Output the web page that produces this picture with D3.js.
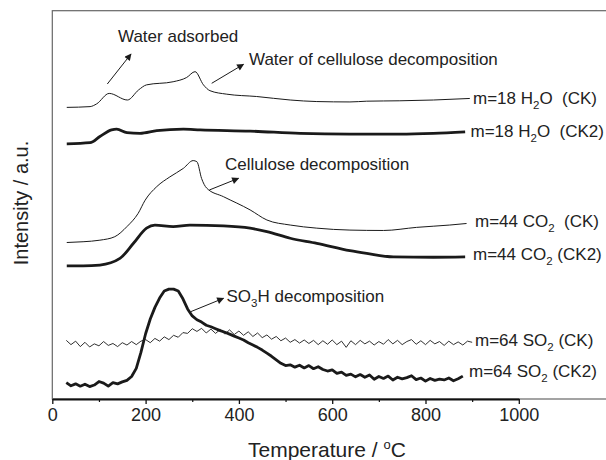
<!DOCTYPE html>
<html>
<head>
<meta charset="utf-8">
<script src="https://cdn.jsdelivr.net/npm/d3@7"></script>
<style>
  html, body { margin: 0; padding: 0; background: #fff; }
  svg { display: block; font-family: "Liberation Sans", Arial, sans-serif; }
  text { white-space: pre; fill: #222; }
</style>
</head>
<body>
<svg id="chart" width="606" height="460"></svg>
<script>
// ---- data: MS signals (offset, arbitrary units) vs temperature (°C) ----
const h2oCK_T  = [31, 81, 95, 122, 161, 185, 202, 259, 288, 306, 324, 338, 374, 438, 510, 567, 638, 674, 745, 817, 895];
const h2oCK_I  = [75.1, 75.3, 76.0, 78.7, 77.0, 79.6, 80.9, 81.7, 82.8, 84.3, 80.9, 79.4, 78.5, 77.9, 77.0, 76.6, 76.5, 76.7, 76.8, 77.0, 77.4];

const h2oCK2_T = [31, 81, 102, 127, 138, 160, 188, 224, 281, 317, 424, 531, 638, 745, 817, 885];
const h2oCK2_I = [65.7, 66.0, 67.6, 69.3, 69.5, 68.6, 68.4, 69.1, 69.5, 69.3, 69.0, 68.4, 68.2, 68.2, 68.4, 68.8];

const co2CK_T  = [31, 66, 102, 134, 160, 184, 199, 224, 252, 281, 302, 310, 320, 331, 367, 424, 460, 510, 567, 638, 710, 781, 852, 888];
const co2CK_I  = [40.3, 40.5, 40.9, 41.8, 44.4, 47.8, 51.2, 54.7, 57.2, 59.4, 61.4, 61.1, 56.8, 54.3, 52.1, 48.7, 46.1, 44.8, 44.0, 43.5, 43.4, 44.2, 44.8, 45.2];

const co2CK2_T = [31, 66, 102, 145, 174, 202, 220, 259, 295, 367, 424, 460, 510, 567, 638, 674, 731, 817, 885];
const co2CK2_I = [34.3, 34.3, 34.5, 36.2, 40.1, 44.0, 44.8, 44.4, 44.8, 44.6, 44.0, 43.1, 41.4, 40.1, 38.2, 37.5, 36.6, 36.5, 36.6];

// SO2 traces are sampled every 10 °C
const so2CK_T = d3.range(30, 901, 10);
const so2CK_I = [15.1, 14.0, 14.9, 13.5, 14.6, 13.4, 14.2, 13.7, 14.8, 13.8, 14.3, 13.5, 14.5, 13.9, 14.8, 14.0, 14.9,
  15.3, 14.5, 15.6, 14.9, 16.0, 15.3, 16.4, 15.9, 17.1, 16.9, 18.1, 17.4, 18.2, 17.0, 18.0, 16.9, 17.9, 16.7, 17.8,
  16.6, 17.5, 16.4, 17.3, 16.1, 17.0, 15.8, 16.5, 15.4, 16.1, 15.0, 15.7, 14.6, 15.3, 14.4, 15.2, 14.3, 15.1, 14.0,
  15.0, 14.1, 15.2, 14.0, 14.9, 13.3, 15.0, 14.0, 15.1, 14.2, 14.9, 13.9, 14.8, 14.1, 15.3, 14.2, 15.1, 14.0, 14.8,
  15.3, 14.1, 15.0, 14.0, 15.1, 14.2, 14.8, 13.8, 14.9, 14.0, 14.7, 13.9, 14.9, 14.6];

const so2CK2_T = d3.range(30, 881, 10);
const so2CK2_I = [4.2, 3.4, 3.9, 3.3, 3.8, 3.2, 3.6, 4.5, 4.1, 3.3, 4.2, 3.9, 4.4, 4.8, 5.8, 7.9, 12.0, 16.8, 20.6,
  23.6, 26.0, 27.8, 28.3, 28.3, 27.8, 25.8, 23.2, 21.4, 20.4, 19.8, 19.0, 18.6, 18.1, 17.6, 17.2, 16.7, 16.2, 15.7,
  15.2, 14.5, 13.9, 13.3, 12.6, 11.8, 11.0, 10.1, 9.2, 8.6, 8.8, 8.2, 8.7, 8.0, 8.6, 7.8, 8.3, 7.6, 7.2, 7.5, 6.6,
  6.9, 6.1, 6.4, 5.7, 6.3, 5.6, 6.2, 5.1, 5.8, 5.3, 5.9, 4.9, 5.6, 5.2, 5.5, 6.0, 5.0, 5.4, 4.6, 5.3, 4.8, 5.1, 4.9,
  5.4, 4.7, 5.2, 5.9];

const majorTicks = [0, 200, 400, 600, 800, 1000];
const minorTicks = [100, 300, 500, 700, 900];

// ---- layout ----
const svg = d3.select("#chart");
const x = d3.scaleLinear().domain([0, 1000]).range([52.3, 518.8]);
const y = d3.scaleLinear().domain([0, 100]).range([399, 10.7]);

// frame (right edge runs past the visible area)
svg.append("rect")
  .attr("x", x(0)).attr("y", y(100))
  .attr("width", 640 - x(0)).attr("height", y(0) - y(100))
  .attr("fill", "none").attr("stroke", "#666").attr("stroke-width", 1.2);

// x axis: bold baseline 0–1000 with outward ticks
const axisG = svg.append("g").attr("transform", `translate(0,${y(0)})`);
axisG.call(d3.axisBottom(x).tickValues(majorTicks).tickSize(5).tickSizeOuter(0).tickFormat(d3.format("d")));
axisG.select(".domain").attr("stroke", "#111").attr("stroke-width", 2.2);
axisG.selectAll(".tick line").attr("stroke", "#111").attr("stroke-width", 1.3);
axisG.selectAll(".tick text")
  .attr("font-size", 18).attr("font-family", "'Liberation Sans', Arial, sans-serif")
  .attr("fill", "#222").attr("y", 9).attr("dy", "0.71em");
const minorG = svg.append("g").attr("transform", `translate(0,${y(0)})`);
minorG.call(d3.axisBottom(x).tickValues(minorTicks).tickSize(3).tickFormat(""));
minorG.select(".domain").remove();
minorG.selectAll(".tick line").attr("stroke", "#111").attr("stroke-width", 1.2);

// axis titles
const xTitle = svg.append("text").attr("x", 248).attr("y", 457).attr("font-size", 21);
xTitle.append("tspan").text("Temperature / ");
xTitle.append("tspan").attr("font-size", 13).attr("baseline-shift", "8px").text("o");
xTitle.append("tspan").text("C");

svg.append("text")
  .attr("transform", "translate(28,203) rotate(-90)")
  .attr("text-anchor", "middle").attr("font-size", 20)
  .text("Intensity / a.u.");

// ---- curves ----
const series = [
  { T: h2oCK_T,  I: h2oCK_I,  w: 1.0, curve: d3.curveMonotoneX },
  { T: h2oCK2_T, I: h2oCK2_I, w: 2.8, curve: d3.curveMonotoneX },
  { T: co2CK_T,  I: co2CK_I,  w: 1.0, curve: d3.curveMonotoneX },
  { T: co2CK2_T, I: co2CK2_I, w: 2.8, curve: d3.curveMonotoneX },
  { T: so2CK_T,  I: so2CK_I,  w: 0.9, curve: d3.curveLinear },
  { T: so2CK2_T, I: so2CK2_I, w: 2.8, curve: d3.curveLinear }
];
series.forEach(s => {
  const pts = s.T.map((t, i) => [t, s.I[i]]);
  svg.append("path")
    .attr("d", d3.line().x(d => x(d[0])).y(d => y(d[1])).curve(s.curve)(pts))
    .attr("fill", "none").attr("stroke", "#1a1a1a")
    .attr("stroke-width", s.w).attr("stroke-linejoin", "round");
});

// ---- curve labels with subscripts ----
function chem(sel, parts) {
  parts.forEach(p => {
    if (p.sub) {
      sel.append("tspan").attr("font-size", 11.5).attr("baseline-shift", "-5px").text(p.sub);
    } else {
      sel.append("tspan").text(p.t);
    }
  });
}
const labels = [
  { x: 473, y: 103.5, parts: [{ t: "m=18 H" }, { sub: "2" }, { t: "O  (CK)" }] },
  { x: 470.5, y: 137, parts: [{ t: "m=18 H" }, { sub: "2" }, { t: "O  (CK2)" }] },
  { x: 475, y: 227, parts: [{ t: "m=44 CO" }, { sub: "2" }, { t: "  (CK)" }] },
  { x: 473, y: 259.5, parts: [{ t: "m=44 CO" }, { sub: "2" }, { t: " (CK2)" }] },
  { x: 475, y: 345.5, parts: [{ t: "m=64 SO" }, { sub: "2" }, { t: " (CK)" }] },
  { x: 469, y: 377, parts: [{ t: "m=64 SO" }, { sub: "2" }, { t: " (CK2)" }] }
];
labels.forEach(l => {
  const t = svg.append("text").attr("x", l.x).attr("y", l.y).attr("font-size", 17);
  chem(t, l.parts);
});

// ---- annotations with arrows ----
svg.append("defs").append("marker")
  .attr("id", "head").attr("viewBox", "0 0 10 10")
  .attr("refX", 9).attr("refY", 5)
  .attr("markerWidth", 9).attr("markerHeight", 7)
  .attr("markerUnits", "userSpaceOnUse").attr("orient", "auto")
  .append("path").attr("d", "M0,0 L10,5 L0,10 Z").attr("fill", "#1a1a1a");

const notes = [
  { tx: 118, ty: 42, parts: [{ t: "Water adsorbed" }], a: [107.3, 84, 131, 54] },
  { tx: 249, ty: 65, parts: [{ t: "Water of cellulose decomposition" }], a: [211.7, 83.3, 243.5, 64.3] },
  { tx: 225, ty: 170, parts: [{ t: "Cellulose decomposition" }], a: [209.3, 190, 238.5, 178.3] },
  { tx: 226.5, ty: 301.5, parts: [{ t: "SO" }, { sub: "3" }, { t: "H decomposition" }], a: [190.7, 311.7, 223.5, 298.3] }
];
notes.forEach(n => {
  const t = svg.append("text").attr("x", n.tx).attr("y", n.ty).attr("font-size", 17);
  chem(t, n.parts);
  svg.append("line")
    .attr("x1", n.a[0]).attr("y1", n.a[1]).attr("x2", n.a[2]).attr("y2", n.a[3])
    .attr("stroke", "#1a1a1a").attr("stroke-width", 1)
    .attr("marker-end", "url(#head)");
});
</script>
</body>
</html>
